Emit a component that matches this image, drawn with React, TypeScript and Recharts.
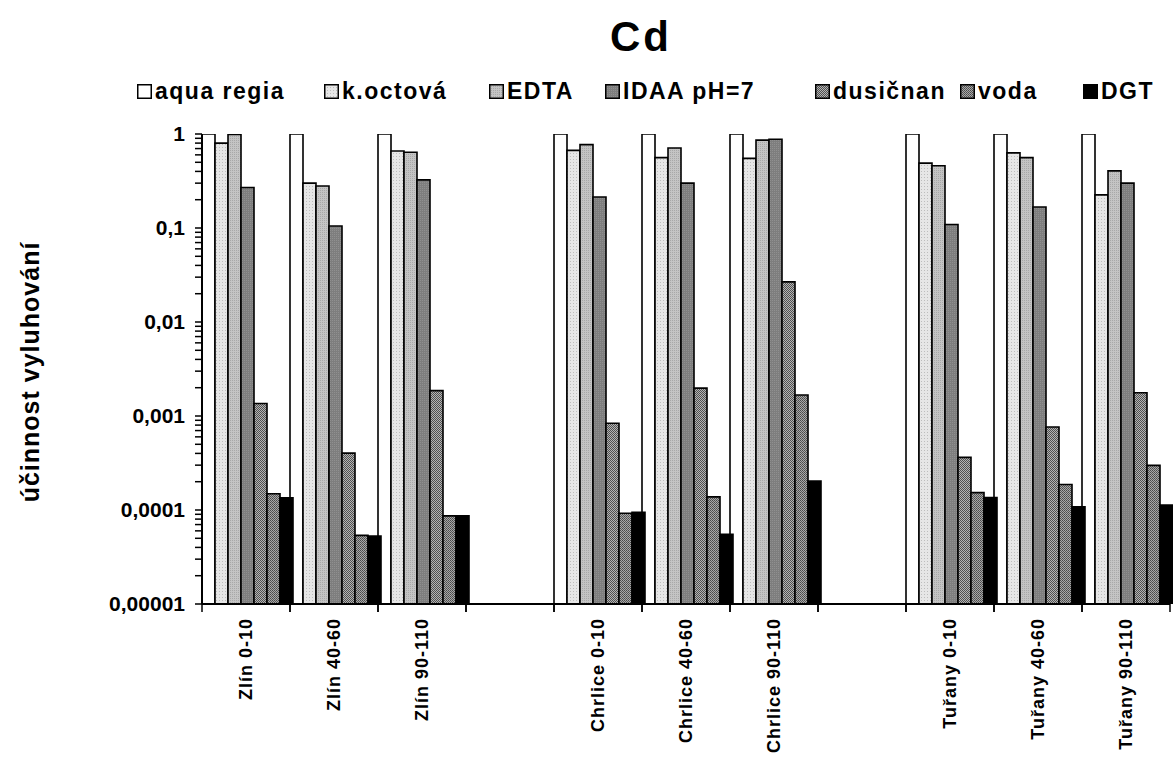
import React from 'react';
import { BarChart, Bar, XAxis, YAxis } from 'recharts';

// sample sites / depths, '' = gap between sites
const categories = [
  'Zlín 0-10', 'Zlín 40-60', 'Zlín 90-110', '',
  'Chrlice 0-10', 'Chrlice 40-60', 'Chrlice 90-110', ' ',
  'Tuřany 0-10', 'Tuřany 40-60', 'Tuřany 90-110',
];

const aquaRegia = [1, 1, 1, null, 1, 1, 1, null, 1, 1, 1];
const kOctova = [0.8, 0.3, 0.66, null, 0.67, 0.56, 0.55, null, 0.49, 0.63, 0.225];
const edta = [0.99, 0.28, 0.64, null, 0.77, 0.71, 0.86, null, 0.46, 0.56, 0.405];
const idaa = [0.27, 0.105, 0.325, null, 0.214, 0.3, 0.88, null, 0.109, 0.167, 0.3];
const dusicnan = [0.00136, 0.000403, 0.00186, null, 0.000838, 0.00198, 0.0267, null, 0.000363, 0.000765, 0.00177];
const voda = [0.000149, 0.0000537, 0.0000865, null, 0.0000922, 0.000138, 0.00167, null, 0.000153, 0.000187, 0.000298];
const dgt = [0.000135, 0.0000528, 0.000087, null, 0.0000946, 0.000055, 0.000203, null, 0.000136, 0.000108, 0.000113];

const seriesNames = ['aqua regia', 'k.octová', 'EDTA', 'IDAA pH=7', 'dusičnan', 'voda', 'DGT'];
const seriesKeys = ['aqua', 'koct', 'edta', 'idaa', 'dusic', 'voda', 'dgt'];
const seriesFills = ['#ffffff', 'url(#pKoct)', 'url(#pEdta)', 'url(#pIdaa)', 'url(#pDusic)', 'url(#pVoda)', '#000000'];

const decades = [0.00001, 0.0001, 0.001, 0.01, 0.1, 1];
const decadeLabels = ['0,00001', '0,0001', '0,001', '0,01', '0,1', '1'];

const data = categories.map((cat, i) => ({
  cat,
  aqua: aquaRegia[i],
  koct: kOctova[i],
  edta: edta[i],
  idaa: idaa[i],
  dusic: dusicnan[i],
  voda: voda[i],
  dgt: dgt[i],
}));

// decade ticks plus the 2..9 minor ticks in between
const yTicks: number[] = [];
decades.slice(0, -1).forEach((d) => {
  for (let m = 1; m < 10; m++) yTicks.push(+(m * d).toPrecision(3));
});
yTicks.push(1);

const FONT = 'Arial, "Liberation Sans", sans-serif';

// legend item left edges (px)
const legendLeft = [137, 324, 489, 605, 815, 960, 1083];

const YTick = (props: any) => {
  const { x, y, payload } = props;
  const idx = decades.findIndex((d) => Math.abs(d - payload.value) < d * 1e-6);
  if (idx < 0) return null;
  return (
    <text x={x} y={y} dy={7} textAnchor="end" fontFamily={FONT} fontWeight="bold" fontSize={21} fill="#000">
      {decadeLabels[idx]}
    </text>
  );
};

const XTick = (props: any) => {
  const { x, y, payload } = props;
  const half = payload.offset || 44;
  const ty = y + 14;
  return (
    <g>
      <line x1={x - half} x2={x - half} y1={y} y2={y + 8} stroke="#000" strokeWidth={1.5} />
      <line x1={x + half} x2={x + half} y1={y} y2={y + 8} stroke="#000" strokeWidth={1.5} />
      <text
        x={x}
        y={ty}
        dy={6}
        textAnchor="end"
        transform={`rotate(-90, ${x}, ${ty})`}
        fontFamily={FONT}
        fontWeight="bold"
        fontSize={18}
        letterSpacing={1}
        fill="#000"
      >
        {payload.value.trim()}
      </text>
    </g>
  );
};

const Patterns = () => (
  <defs>
    <pattern id="pKoct" width="3" height="3" patternUnits="userSpaceOnUse">
      <rect width="3" height="3" fill="#e6e6e6" />
      <rect width="1" height="1" fill="#bdbdbd" />
    </pattern>
    <pattern id="pEdta" width="2" height="2" patternUnits="userSpaceOnUse">
      <rect width="2" height="2" fill="#c4c4c4" />
      <rect width="1" height="1" fill="#a8a8a8" />
    </pattern>
    <pattern id="pIdaa" width="2" height="2" patternUnits="userSpaceOnUse">
      <rect width="2" height="2" fill="#7e7e7e" />
      <rect width="1" height="1" fill="#909090" />
    </pattern>
    <pattern id="pDusic" width="2" height="2" patternUnits="userSpaceOnUse">
      <rect width="2" height="2" fill="#b4b4b4" />
      <rect width="1" height="1" fill="#505050" />
      <rect x="1" y="1" width="1" height="1" fill="#505050" />
    </pattern>
    <pattern id="pVoda" width="2" height="2" patternUnits="userSpaceOnUse">
      <rect width="2" height="2" fill="#a8a8a8" />
      <rect width="1" height="1" fill="#4a4a4a" />
      <rect x="1" y="1" width="1" height="1" fill="#5a5a5a" />
    </pattern>
  </defs>
);

export default function App() {
  return (
    <div style={{ position: 'absolute', left: 0, top: 0, width: 1173, height: 765, background: '#fff' }}>
      <BarChart
        width={1173}
        height={765}
        data={data}
        margin={{ top: 134, right: 3, bottom: 0, left: 0 }}
        barCategoryGap={0}
        barGap={0}
      >
        <Patterns />
        <XAxis
          dataKey="cat"
          interval={0}
          height={161}
          tickLine={false}
          tickSize={0}
          tickMargin={0}
          tick={<XTick />}
          axisLine={{ stroke: '#000', strokeWidth: 2 }}
        />
        <YAxis
          width={202}
          type="number"
          scale="log"
          domain={[0.00001, 1]}
          allowDataOverflow
          ticks={yTicks}
          interval={0}
          tickSize={7}
          tickMargin={10}
          tickLine={{ stroke: '#000', strokeWidth: 1.5 }}
          axisLine={{ stroke: '#000', strokeWidth: 2 }}
          tick={<YTick />}
        />
        {seriesKeys.map((k, i) => (
          <Bar
            key={k}
            dataKey={k}
            name={seriesNames[i]}
            fill={seriesFills[i]}
            stroke="#000"
            strokeWidth={1.6}
            isAnimationActive={false}
          />
        ))}
      </BarChart>

      <div
        style={{
          position: 'absolute',
          left: 0,
          width: 1282,
          top: 13,
          textAlign: 'center',
          fontFamily: FONT,
          fontWeight: 'bold',
          fontSize: 42,
          letterSpacing: 3,
        }}
      >
        Cd
      </div>

      {seriesNames.map((n, i) => (
        <div
          key={n}
          style={{
            position: 'absolute',
            left: legendLeft[i],
            top: 78,
            display: 'flex',
            alignItems: 'center',
            fontFamily: FONT,
            fontWeight: 'bold',
            fontSize: 23,
            letterSpacing: 1.5,
            whiteSpace: 'nowrap',
          }}
        >
          <svg width={15} height={15} style={{ marginRight: 3 }}>
            <rect x={0.75} y={0.75} width={13.5} height={13.5} fill={seriesFills[i]} stroke="#000" strokeWidth={1.5} />
          </svg>
          <span>{n}</span>
        </div>
      ))}

      <svg style={{ position: 'absolute', left: 0, top: 0 }} width={70} height={765}>
        <text
          x={39}
          y={372}
          transform="rotate(-90, 39, 372)"
          textAnchor="middle"
          fontFamily={FONT}
          fontWeight="bold"
          fontSize={25}
          letterSpacing={1}
          fill="#000"
        >
          účinnost vyluhování
        </text>
      </svg>
    </div>
  );
}
